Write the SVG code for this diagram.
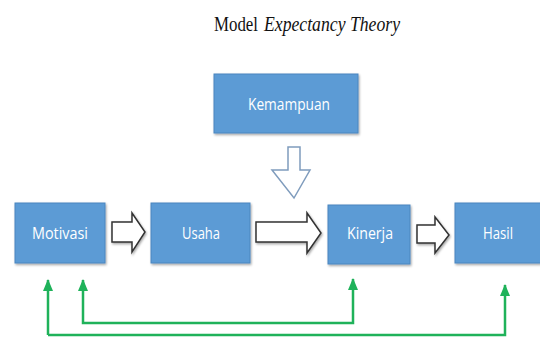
<svg xmlns="http://www.w3.org/2000/svg" width="540" height="337" viewBox="0 0 540 337">
<defs>
<marker id="ga" markerWidth="12" markerHeight="10" refX="11" refY="5" orient="auto-start-reverse" markerUnits="userSpaceOnUse" viewBox="0 0 12 10">
<path d="M0,0 L12,5 L0,10 Z" fill="#1fb25a"/>
</marker>
<filter id="sh" x="-10%" y="-10%" width="130%" height="130%">
<feDropShadow dx="1" dy="1.5" stdDeviation="1" flood-color="#000" flood-opacity="0.35"/>
</filter>
</defs>
<style>
.box{fill:#5b9bd5;stroke:#4a86bf;stroke-width:1;filter:url(#sh)}
.lbl{fill:#fff;font-family:"Open Sans","Liberation Sans",sans-serif;font-size:17px;text-anchor:middle}
.blk{fill:#fff;stroke:#333;stroke-width:1.5;filter:url(#sh)}
.green{fill:none;stroke:#1fb25a;stroke-width:2.5}
.ttl{font-family:"Liberation Serif",serif;font-size:21px;fill:#111}
</style>
<rect width="540" height="337" fill="#fff"/>
<text class="ttl" x="214" y="31" textLength="44" lengthAdjust="spacingAndGlyphs">Model</text>
<text class="ttl" x="264" y="31" font-style="italic" textLength="136" lengthAdjust="spacingAndGlyphs">Expectancy Theory</text>

<g id="kemampuan">
<rect class="box" x="214" y="74" width="144" height="59"/>
<text class="lbl" x="289" y="110" textLength="82" lengthAdjust="spacingAndGlyphs">Kemampuan</text>
</g>
<g id="motivasi">
<rect class="box" x="15" y="203" width="90" height="60"/>
<text class="lbl" x="60" y="239" textLength="56" lengthAdjust="spacingAndGlyphs">Motivasi</text>
</g>
<g id="usaha">
<rect class="box" x="151" y="203" width="99" height="60"/>
<text class="lbl" x="201" y="239" textLength="38" lengthAdjust="spacingAndGlyphs">Usaha</text>
</g>
<g id="kinerja">
<rect class="box" x="328" y="205" width="82" height="59"/>
<text class="lbl" x="370" y="239" textLength="46" lengthAdjust="spacingAndGlyphs">Kinerja</text>
</g>
<g id="hasil">
<rect class="box" x="455" y="203" width="90" height="60"/>
<text class="lbl" x="498" y="239" textLength="30" lengthAdjust="spacingAndGlyphs">Hasil</text>
</g>

<g id="connectors">
<path d="M288,147 H300 V170 H310 L294,198 L272,170 H288 Z" fill="#fff" stroke="#7f9cbd" stroke-width="1.5"/>
<path class="blk" d="M112,222 H132 V213 L145,232 L132,252 V242 H112 Z"/>
<path class="blk" d="M256,222 H307 V213 L321,233 L307,253 V242 H256 Z"/>
<path class="blk" d="M417,225 H435 V217 L449,235 L435,253 V243 H417 Z"/>
<path class="green" d="M48,335 H505 V285" marker-end="url(#ga)"/>
<path class="green" d="M48,335 V280" marker-end="url(#ga)"/>
<path class="green" d="M83,280 V323 H353 V279" marker-start="url(#ga)" marker-end="url(#ga)"/>
</g>
</svg>
